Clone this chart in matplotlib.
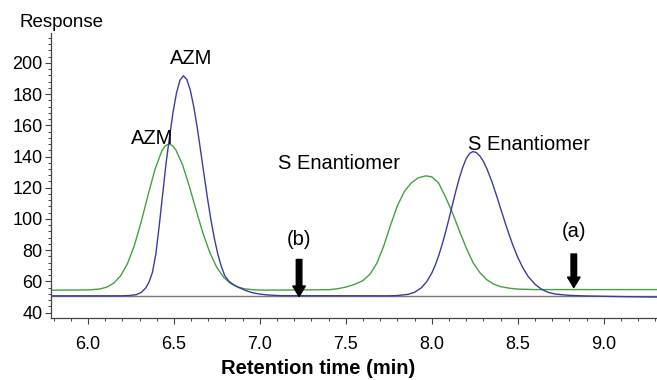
import matplotlib
matplotlib.use('Agg')
import matplotlib.pyplot as plt
from matplotlib.ticker import MultipleLocator, FormatStrFormatter

plt.rcParams['font.family'] = ['Liberation Sans', 'DejaVu Sans']

## Data
# green trace (upper baseline)
green_t = [5.785, 6.01, 6.07, 6.11, 6.15, 6.19, 6.23, 6.27, 6.31, 6.35, 6.39, 6.43, 6.45,
           6.47, 6.49, 6.51, 6.55, 6.59, 6.63, 6.67, 6.71, 6.75, 6.79, 6.83, 6.87, 6.91,
           6.97, 7.03, 7.40, 7.45, 7.50, 7.55, 7.60, 7.64, 7.68, 7.72, 7.76, 7.80, 7.84,
           7.88, 7.92, 7.965, 8.00, 8.04, 8.08, 8.12, 8.16, 8.20, 8.24, 8.28, 8.32, 8.36,
           8.40, 8.45, 8.50, 8.60, 9.31]
green_v = [54.3, 54.5, 55.1, 56.3, 58.8, 63.5, 71.4, 83.0, 98.3, 115.5, 131.8, 143.7, 146.9,
           148.0, 147.1, 144.5, 134.8, 120.8, 105.3, 90.5, 78.1, 68.8, 62.5, 58.6, 56.4, 55.2,
           54.5, 54.35, 54.6, 55.2, 56.3, 58.0, 60.5, 64.5, 71.5, 82.5, 96.0, 108.5, 117.5,
           123.0, 126.3, 127.6, 127.0, 123.0, 114.0, 104.0, 92.5, 81.5, 72.0, 65.5, 61.0, 58.2,
           56.6, 55.6, 55.0, 54.7, 54.7]

# blue trace
blue_t = [5.785, 6.20, 6.24, 6.28, 6.31, 6.335, 6.355, 6.375, 6.395, 6.415, 6.435, 6.455,
          6.475, 6.495, 6.515, 6.535, 6.555, 6.575, 6.595, 6.615, 6.635, 6.655, 6.675, 6.695,
          6.715, 6.735, 6.755, 6.775, 6.795, 6.82, 6.85, 6.88, 6.92, 6.96, 7.00, 7.05, 7.12,
          7.75, 7.80, 7.86, 7.90, 7.94, 7.97, 8.00, 8.02, 8.04, 8.06, 8.08, 8.10, 8.12, 8.14,
          8.16, 8.18, 8.20, 8.22, 8.24, 8.26, 8.28, 8.30, 8.32, 8.35, 8.38, 8.41, 8.44, 8.47,
          8.50, 8.53, 8.56, 8.60, 8.64, 8.68, 8.72, 8.80, 8.90, 9.00, 9.10, 9.31]
blue_v = [50.7, 50.7, 50.9, 51.4, 52.9, 55.6, 59.4, 65.7, 77.6, 96.1, 116.3, 136.3,
          153.0, 168.5, 180.8, 188.9, 191.8, 189.4, 182.7, 172.2, 159.0, 144.0, 128.5, 113.4,
          99.6, 87.6, 77.6, 69.8, 63.8, 60.0, 57.6, 55.9, 54.0, 52.6, 51.8, 51.2, 50.8,
          50.7, 50.9, 51.6, 53.0, 55.9, 59.7, 65.3, 70.3, 76.4, 83.5, 91.5, 100.1, 109.1, 117.9,
          126.1, 133.1, 138.6, 142.0, 143.2, 142.5, 140.3, 136.9, 132.3, 123.8, 113.8, 103.3, 93.1, 83.6,
          75.4, 68.6, 63.2, 58.1, 54.8, 52.8, 51.8, 51.0, 50.6, 50.4, 50.2, 49.9]

baseline = 50.7

# peak labels: text, x, y
labels = [('AZM', 6.375, 148.3), ('AZM', 6.60, 199.4),
          ('S Enantiomer', 7.46, 132.2), ('S Enantiomer', 8.565, 144.3)]
# arrows: label, x, top, tip, label y
arrows = [('(b)', 7.228, 74.0, 50.3, 87.0), ('(a)', 8.826, 77.5, 56.0, 92.0)]

## Plot
fig = plt.figure(figsize=(6.57, 3.8), dpi=100)
ax = fig.add_axes([51/657, 1-317.5/380, 1-51/657, (317.5-33)/380])

ax.axhline(baseline, color='#7a7a7a', lw=1.0)
ax.plot(green_t, green_v, color='#46a046', lw=1.0)
ax.plot(blue_t, blue_v, color='#3c3ca0', lw=1.0)

for txt, x, y in labels:
    ax.text(x, y, txt, ha='center', va='baseline', fontsize=14.5)

for txt, x, top, tip, ly in arrows:
    ax.annotate('', xy=(x, tip), xytext=(x, top),
                arrowprops=dict(arrowstyle='simple,head_length=0.75,head_width=0.9,tail_width=0.4',
                                mutation_scale=10, color='black', shrinkA=0, shrinkB=0))
    ax.text(x, ly, txt, ha='center', va='center', fontsize=14.5)

ax.set_xlim(5.785, 9.31)
ax.set_ylim(36.8, 219.2)
ax.xaxis.set_major_locator(MultipleLocator(0.5))
ax.xaxis.set_minor_locator(MultipleLocator(0.1))
ax.xaxis.set_major_formatter(FormatStrFormatter('%.1f'))
ax.yaxis.set_major_locator(MultipleLocator(20))
ax.yaxis.set_minor_locator(MultipleLocator(4))

for s in ['top', 'right']:
    ax.spines[s].set_visible(False)
for s in ['left', 'bottom']:
    ax.spines[s].set_color('#444444')
    ax.spines[s].set_linewidth(0.9)

ax.tick_params(axis='both', which='major', length=4, width=0.8, color='#444444', labelsize=13)
ax.tick_params(axis='both', which='minor', length=2.2, width=0.7, color='#444444')
ax.tick_params(axis='x', which='major', pad=9)
ax.tick_params(axis='y', which='major', pad=2)

fig.text(61.5/657, 1-27.3/380, 'Response', ha='center', va='baseline', fontsize=13.5)
fig.text(318/657, 6/380, 'Retention time (min)', ha='center', va='baseline',
         fontsize=14.5, fontweight='bold')

fig.savefig('out.png', dpi=100)
